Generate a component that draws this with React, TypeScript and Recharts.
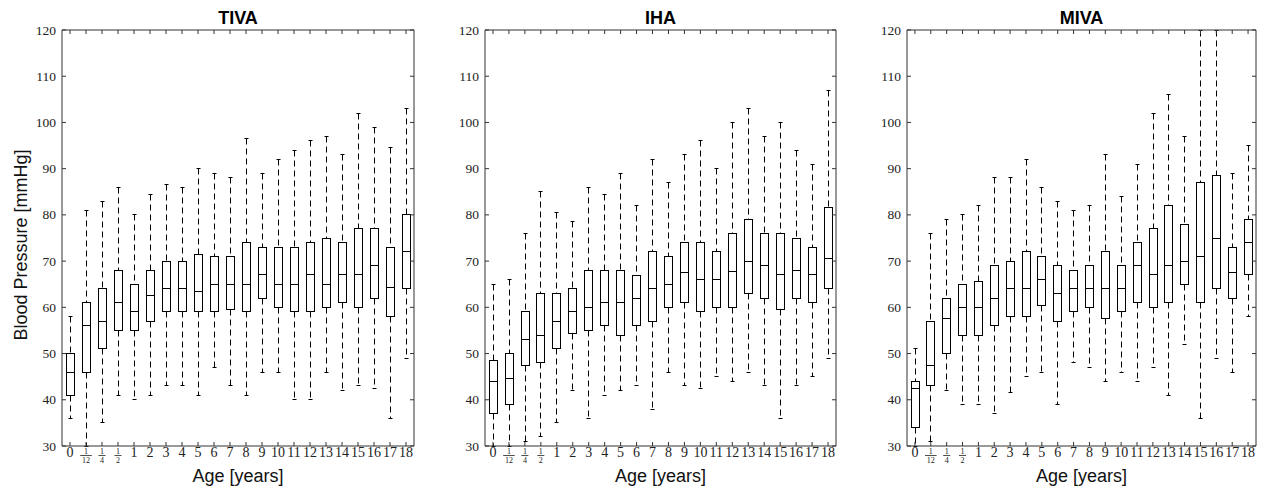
import React from 'react';
import { ComposedChart, Bar, XAxis, YAxis, Label } from 'recharts';

// age groups on the x axis
const ages = ['0', '1/12', '1/4', '1/2', '1', '2', '3', '4', '5', '6', '7', '8', '9', '10', '11', '12', '13', '14', '15', '16', '17', '18'];
const bpTicks = [30, 40, 50, 60, 70, 80, 90, 100, 110, 120];

// TIVA
const tivaMin = [36, 30, 35, 41, 40, 41, 43, 43, 41, 47, 43, 41, 46, 46, 40, 40, 46, 42, 43, 42.5, 36, 49];
const tivaQ1 = [41, 46, 51, 55, 55, 57, 59, 59, 59, 59, 59.5, 59, 62, 60, 59, 59, 60, 61, 60, 62, 58, 64];
const tivaMed = [46, 56, 57, 61, 59, 62.5, 64, 64, 63.5, 65, 65, 65, 67, 65, 65, 67, 65, 67, 67, 69, 64.2, 72];
const tivaQ3 = [50, 61, 64, 68, 65, 68, 70, 70, 71.5, 71, 71, 74, 73, 73, 73, 74, 75, 74, 77, 77, 73, 80];
const tivaMax = [58, 81, 83, 86, 80, 84.5, 86.5, 86, 90, 89, 88, 96.5, 89, 92, 94, 96, 97, 93, 102, 99, 94.5, 103];

// IHA
const ihaMin = [30, 30, 31, 32, 35, 42, 36, 41, 42, 43, 38, 46, 43, 42.5, 45, 44, 46, 43, 36, 43, 45, 49];
const ihaQ1 = [37, 39, 47.5, 48, 51, 54.3, 55, 56, 54, 56, 57, 60, 61, 59, 60, 60, 63, 62, 59.5, 62, 61, 64];
const ihaMed = [44, 44.5, 53, 54, 57, 59, 60, 61, 61, 62, 64, 65, 67.5, 66, 66, 67.8, 70, 69, 67, 68, 67, 70.5];
const ihaQ3 = [48.5, 50, 59, 63, 63, 64, 68, 68, 68, 66.8, 72, 71, 74, 74, 72, 76, 79, 76, 76, 75, 73, 81.5];
const ihaMax = [65, 66, 76, 85, 80.5, 78.5, 86, 84.5, 89, 82, 92, 87, 93, 96, 90, 100, 103, 97, 100, 94, 91, 107];

// MIVA
const mivaMin = [30, 31, 42, 39, 39, 37, 41.5, 45, 46, 39, 48, 47, 44, 46, 44, 47, 41, 52, 36, 49, 46, 58];
const mivaQ1 = [34, 43, 50, 54, 54, 56, 58, 58, 60.5, 57, 59, 60, 57.5, 59, 61, 60, 61, 65, 61, 64, 62, 67];
const mivaMed = [42.5, 47.5, 57.5, 60, 60, 62, 64, 64, 66, 63, 64, 64, 64, 64, 69, 67, 69, 70, 71, 75, 67.5, 74];
const mivaQ3 = [44, 57, 62, 65, 65.5, 69, 70, 72, 71, 69, 68, 69, 72, 69, 74, 77, 82, 78, 87, 88.5, 73, 79];
const mivaMax = [51, 76, 79, 80, 82, 88, 88, 92, 86, 83, 81, 82, 93, 84, 91, 102, 106, 97, 120, 120, 89, 95];

const PLOT_TOP = 30;
const PLOT_BOTTOM = 446;
const serif = "'Liberation Serif', 'Times New Roman', serif";
const sans = "'Liberation Sans', Arial, Helvetica, sans-serif";
const frame = '#333';

const snap = (v: number) => Math.round(v - 0.5) + 0.5;

const BoxShape = (props: any) => {
  const { x, y, width, height, payload } = props;
  if (!payload) return null;
  const { min, q1, med, q3, max } = payload;
  const top = Math.min(y, y + height);
  const bottom = Math.max(y, y + height);
  const py = (v: number) => snap(top + ((max - v) / (max - min)) * (bottom - top));
  const cx = snap(x + width / 2);
  return (
    <g stroke="#000" strokeWidth={1} fill="none">
      <line x1={cx} x2={cx} y1={py(max)} y2={py(q3)} strokeDasharray="6 4" />
      <line x1={cx} x2={cx} y1={py(q1)} y2={py(min)} strokeDasharray="6 4" />
      <line x1={cx - 2} x2={cx + 2} y1={py(max)} y2={py(max)} />
      <line x1={cx - 2} x2={cx + 2} y1={py(min)} y2={py(min)} />
      <rect x={cx - 4} y={py(q3)} width={8} height={py(q1) - py(q3)} />
      <line x1={cx - 4} x2={cx + 4} y1={py(med)} y2={py(med)} />
    </g>
  );
};

const AgeTick = (props: any) => {
  const { x, payload } = props;
  const v = String(payload.value);
  const ticks = (
    <>
      <line x1={x} x2={x} y1={PLOT_BOTTOM} y2={PLOT_BOTTOM - 4} stroke={frame} />
      <line x1={x} x2={x} y1={PLOT_TOP} y2={PLOT_TOP + 4} stroke={frame} />
    </>
  );
  if (v.includes('/')) {
    const [n, d] = v.split('/');
    const w = d.length * 2.3 + 1.2;
    return (
      <g>
        {ticks}
        <text x={x} y={454} textAnchor="middle" style={{ fontFamily: serif, fontSize: 8 }} fill="#222">{n}</text>
        <line x1={x - w} x2={x + w} y1={455.5} y2={455.5} stroke="#222" strokeWidth={0.8} />
        <text x={x} y={462.5} textAnchor="middle" style={{ fontFamily: serif, fontSize: 8 }} fill="#222">{d}</text>
      </g>
    );
  }
  return (
    <g>
      {ticks}
      <text x={x} y={457} textAnchor="middle" style={{ fontFamily: serif, fontSize: 14 }} fill="#222">{v}</text>
    </g>
  );
};

const BpTick = (props: any) => {
  const { y, payload, plotLeft, plotRight } = props;
  const isTop = payload.value === 120;
  return (
    <g>
      {isTop && (
        <>
          <line x1={plotLeft} x2={plotRight} y1={PLOT_TOP} y2={PLOT_TOP} stroke={frame} />
          <line x1={plotRight} x2={plotRight} y1={PLOT_TOP} y2={PLOT_BOTTOM} stroke={frame} />
        </>
      )}
      <line x1={plotLeft} x2={plotLeft + 4} y1={y} y2={y} stroke={frame} />
      <line x1={plotRight - 4} x2={plotRight} y1={y} y2={y} stroke={frame} />
      <text x={plotLeft - 6} y={y + 4.5} textAnchor="end" style={{ fontFamily: serif, fontSize: 13.5 }} fill="#222">
        {payload.value}
      </text>
    </g>
  );
};

const Panel = ({ title, left, width, marginLeft, showYLabel, mins, q1s, meds, q3s, maxs }: any) => {
  const data = ages.map((age, i) => ({ age, min: mins[i], q1: q1s[i], med: meds[i], q3: q3s[i], max: maxs[i] }));
  const plotLeft = marginLeft + 40;
  const plotRight = width - 6;

  return (
    <div style={{ position: 'absolute', left, top: 0 }}>
      <ComposedChart width={width} height={489} data={data} margin={{ top: PLOT_TOP, right: 6, bottom: 0, left: marginLeft }}>
        <XAxis
          dataKey="age"
          type="category"
          interval={0}
          height={43}
          axisLine={{ stroke: frame }}
          tickLine={false}
          tick={<AgeTick />}
          label={
            <Label
              content={(p: any) => {
                const cx = p.viewBox.x + p.viewBox.width / 2;
                return (
                  <g>
                    <text x={cx} y={482} textAnchor="middle" style={{ fontFamily: sans, fontSize: 18 }} fill="#111">
                      Age [years]
                    </text>
                    <text x={cx} y={24} textAnchor="middle" style={{ fontFamily: sans, fontSize: 18, fontWeight: 'bold' }} fill="#000">
                      {title}
                    </text>
                  </g>
                );
              }}
            />
          }
        />
        <YAxis
          type="number"
          domain={[30, 120]}
          ticks={bpTicks}
          interval={0}
          width={40}
          axisLine={{ stroke: frame }}
          tickLine={false}
          tick={<BpTick plotLeft={plotLeft} plotRight={plotRight} />}
          label={
            showYLabel ? (
              <Label
                content={() => (
                  <text x={27} y={245} transform="rotate(-90, 27, 245)" textAnchor="middle" style={{ fontFamily: sans, fontSize: 18 }} fill="#111">
                    Blood Pressure [mmHg]
                  </text>
                )}
              />
            ) : undefined
          }
        />
        <Bar dataKey={(d: any) => [d.min, d.max]} shape={BoxShape} isAnimationActive={false} />
      </ComposedChart>
    </div>
  );
};

export default function App() {
  return (
    <div style={{ position: 'absolute', left: 0, top: 0, width: 1262, height: 489, background: '#fff' }}>
      <Panel title="TIVA" left={0} width={420} marginLeft={22} showYLabel mins={tivaMin} q1s={tivaQ1} meds={tivaMed} q3s={tivaQ3} maxs={tivaMax} />
      <Panel title="IHA" left={422} width={420} marginLeft={23} mins={ihaMin} q1s={ihaQ1} meds={ihaMed} q3s={ihaQ3} maxs={ihaMax} />
      <Panel title="MIVA" left={844} width={418} marginLeft={23} mins={mivaMin} q1s={mivaQ1} meds={mivaMed} q3s={mivaQ3} maxs={mivaMax} />
    </div>
  );
}
